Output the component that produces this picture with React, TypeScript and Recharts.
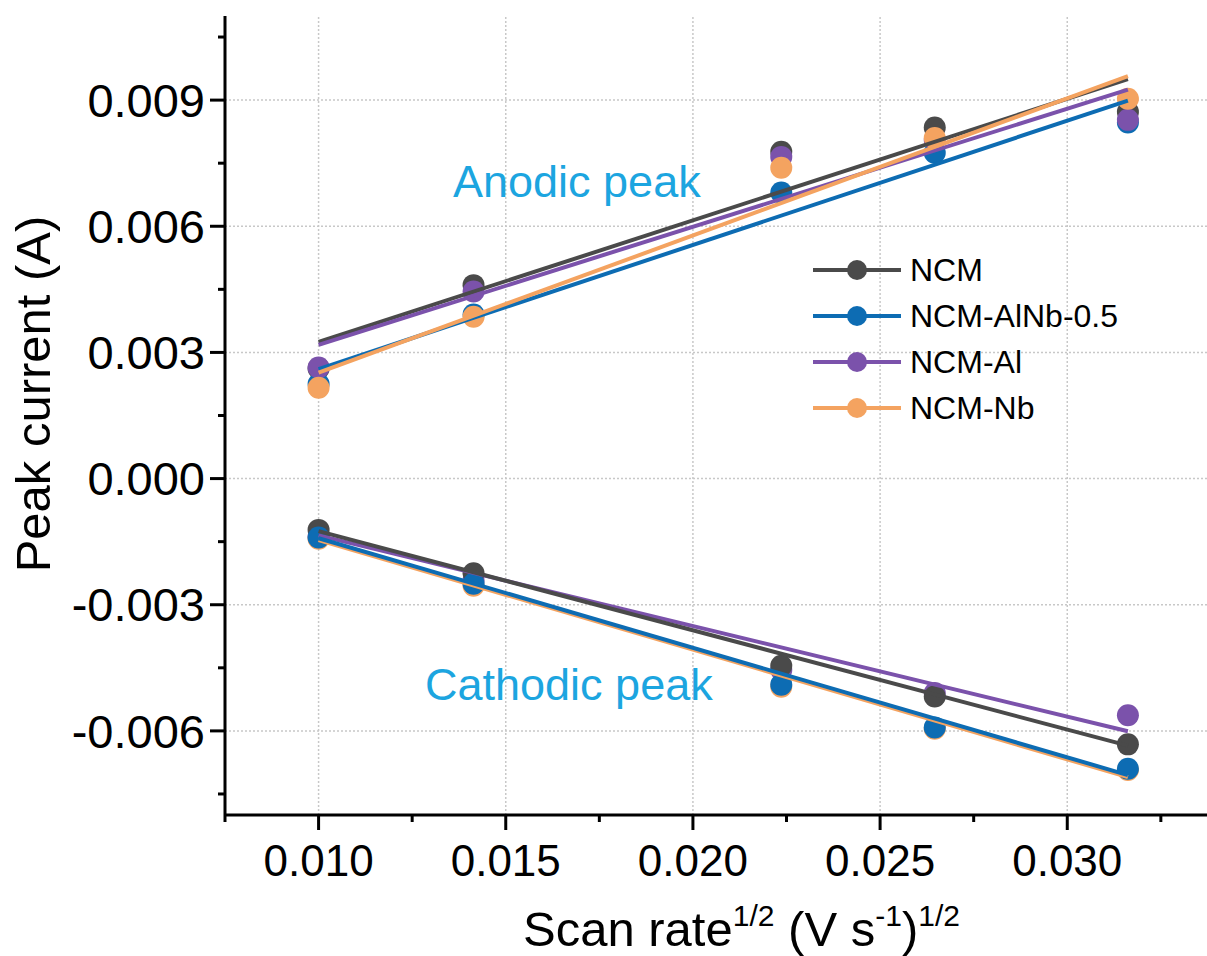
import {ComposedChart, Legend, ReferenceLine, Scatter, XAxis, YAxis, Label} from "recharts";

const font = '"Liberation Sans", Arial, sans-serif';

// sqrt of scan rates (V/s)^1/2
const scanRateSqrt = [0.01, 0.01414, 0.02236, 0.02646, 0.03162];
const fitRange = [0.01, 0.03162];

// peak currents, mA (converted to A below)
const ncmAnodic = [2.62, 4.6, 7.77, 8.35, 8.72];
const alnbAnodic = [2.25, 3.9, 6.8, 7.75, 8.47];
const alAnodic = [2.64, 4.45, 7.65, 8.05, 8.53];
const nbAnodic = [2.16, 3.85, 7.39, 8.1, 9.03];

const ncmCathodic = [-1.22, -2.25, -4.45, -5.18, -6.32];
const alnbCathodic = [-1.4, -2.5, -4.9, -5.92, -6.9];
const alCathodic = [-1.38, -2.42, -4.55, -5.1, -5.63];
const nbCathodic = [-1.43, -2.55, -4.95, -5.95, -6.93];

// linear fit ends (start at 0.010, end at 0.03162), mA
const ncmAnodicFit = [3.25, 9.5];
const alnbAnodicFit = [2.6, 8.99];
const alAnodicFit = [3.18, 9.25];
const nbAnodicFit = [2.52, 9.57];
const ncmCathodicFit = [-1.25, -6.35];
const alnbCathodicFit = [-1.42, -7.05];
const alCathodicFit = [-1.35, -6.01];
const nbCathodicFit = [-1.46, -7.1];

const xMajor = [0.01, 0.015, 0.02, 0.025, 0.03];
const xMinor = [0.0075, 0.0125, 0.0175, 0.0225, 0.0275, 0.0325];
const yMajor = [-0.006, -0.003, 0, 0.003, 0.006, 0.009];
const yMinor = [-0.0075, -0.0045, -0.0015, 0.0015, 0.0045, 0.0075, 0.0105];

const series = [
  {name: "NCM", color: "#4a4a4a", anodic: ncmAnodic, cathodic: ncmCathodic, aFit: ncmAnodicFit, cFit: ncmCathodicFit},
  {name: "NCM-AlNb-0.5", color: "#0d6cb3", anodic: alnbAnodic, cathodic: alnbCathodic, aFit: alnbAnodicFit, cFit: alnbCathodicFit},
  {name: "NCM-Al", color: "#7b52ab", anodic: alAnodic, cathodic: alCathodic, aFit: alAnodicFit, cFit: alCathodicFit},
  {name: "NCM-Nb", color: "#f4a360", anodic: nbAnodic, cathodic: nbCathodic, aFit: nbAnodicFit, cFit: nbCathodicFit},
];

const toPoints = (xs: number[], ys: number[]) => ys.map((v, i) => ({x: xs[i], y: v / 1000}));

const isIn = (list: number[], v: number) => list.some((m) => Math.abs(m - v) < 1e-7);

const TICK = 15;
const X_GAP = 15;
const Y_GAP = 5;

function XTick({x, y, payload}: any) {
  const major = isIn(xMajor, payload.value);
  const y0 = y - TICK - X_GAP;
  return (
    <g>
      <line x1={x} x2={x} y1={y0} y2={y0 + (major ? 15 : 7)} stroke="#000" strokeWidth={3} />
      {major && (
        <text x={x} y={y} dy="0.71em" textAnchor="middle" fontSize={44} fontFamily={font} fill="#000">
          {payload.value.toFixed(3)}
        </text>
      )}
    </g>
  );
}

function YTick({x, y, payload}: any) {
  const major = isIn(yMajor, payload.value);
  const x0 = x + TICK + Y_GAP;
  return (
    <g>
      <line x1={x0} x2={x0 - (major ? 15 : 7)} y1={y} y2={y} stroke="#000" strokeWidth={3} />
      {major && (
        <text x={x} y={y} dy="0.355em" textAnchor="end" fontSize={47} fontFamily={font} fill="#000">
          {payload.value.toFixed(3)}
        </text>
      )}
    </g>
  );
}

const dot = (color: string) => (p: any) => <circle cx={p.cx} cy={p.cy} r={11} fill={color} />;
const noDot = () => <g />;

function renderLegend() {
  return (
    <div style={{fontFamily: font, fontSize: 32, color: "#000"}}>
      {series.map((s) => (
        <div key={s.name} style={{display: "flex", alignItems: "center", height: 46}}>
          <svg width={88} height={24}>
            <line x1={0} x2={88} y1={12} y2={12} stroke={s.color} strokeWidth={4} />
            <circle cx={44} cy={12} r={10} fill={s.color} />
          </svg>
          <span style={{marginLeft: 9}}>{s.name}</span>
        </div>
      ))}
    </div>
  );
}

function XTitle({viewBox}: any) {
  const x = viewBox.x + 298;
  return (
    <text x={x} y={946} fontSize={49} fontFamily={font} fill="#000">
      Scan rate
      <tspan dy={-20} fontSize={30}>1/2</tspan>
      <tspan dy={20}> (V s</tspan>
      <tspan dy={-20} fontSize={30}>-1</tspan>
      <tspan dy={20}>)</tspan>
      <tspan dy={-20} fontSize={30}>1/2</tspan>
    </text>
  );
}

function YTitle() {
  return (
    <text
      x={50}
      y={394}
      transform="rotate(-90, 50, 394)"
      textAnchor="middle"
      fontSize={49}
      fontFamily={font}
      fill="#000"
    >
      Peak current (A)
    </text>
  );
}

export default function App() {
  return (
    <div style={{position: "absolute", left: 0, top: 0, width: 1207, height: 956, overflow: "hidden", background: "#fff"}}>
      <ComposedChart width={1217} height={956} margin={{top: 16, right: 0, bottom: 0, left: 0}}>
        <XAxis
          type="number"
          dataKey="x"
          domain={[0.0075, 0.034]}
          ticks={[...xMajor, ...xMinor].sort((a, b) => a - b)}
          interval={0}
          allowDataOverflow
          height={141}
          tickSize={TICK}
          tickMargin={X_GAP}
          tickLine={false}
          tick={<XTick />}
          axisLine={{stroke: "#000", strokeWidth: 3}}
        >
          <Label content={<XTitle />} />
        </XAxis>
        <XAxis
          xAxisId="top"
          orientation="top"
          type="number"
          domain={[0.0075, 0.034]}
          height={0}
          tick={false}
          tickLine={false}
          axisLine={{stroke: "#000", strokeWidth: 3}}
        />
        <YAxis
          type="number"
          dataKey="y"
          domain={[-0.008, 0.011]}
          ticks={[...yMajor, ...yMinor].sort((a, b) => a - b)}
          interval={0}
          allowDataOverflow
          width={225}
          tickSize={TICK}
          tickMargin={Y_GAP}
          tickLine={false}
          tick={<YTick />}
          axisLine={{stroke: "#000", strokeWidth: 3}}
        >
          <Label content={<YTitle />} />
        </YAxis>

        {xMajor.map((v) => (
          <ReferenceLine key={`gx${v}`} x={v} stroke="#c8c8c8" strokeWidth={1.5} strokeDasharray="2 2" />
        ))}
        {yMajor.map((v) => (
          <ReferenceLine key={`gy${v}`} y={v} stroke="#c8c8c8" strokeWidth={1.5} strokeDasharray="2 2" />
        ))}

        {series.map((s) => (
          <Scatter
            key={`a-${s.name}`}
            name={s.name}
            data={toPoints(scanRateSqrt, s.anodic)}
            shape={dot(s.color)}
            fill={s.color}
            isAnimationActive={false}
          />
        ))}
        {[series[2], series[3], series[0], series[1]].map((s) => (
          <Scatter
            key={`c-${s.name}`}
            data={toPoints(scanRateSqrt, s.cathodic)}
            shape={dot(s.color)}
            fill={s.color}
            legendType="none"
            isAnimationActive={false}
          />
        ))}
        {series.map((s) => (
          <Scatter
            key={`af-${s.name}`}
            data={toPoints(fitRange, s.aFit)}
            line={{stroke: s.color, strokeWidth: 4}}
            shape={noDot}
            legendType="none"
            isAnimationActive={false}
          />
        ))}
        {[series[2], series[3], series[0], series[1]].map((s) => (
          <Scatter
            key={`cf-${s.name}`}
            data={toPoints(fitRange, s.cFit)}
            line={{stroke: s.color, strokeWidth: 4}}
            shape={noDot}
            legendType="none"
            isAnimationActive={false}
          />
        ))}

        <Legend
          content={renderLegend}
          layout="horizontal"
          verticalAlign="middle"
          align="center"
          wrapperStyle={{position: "absolute", left: 813, top: 247, width: 320}}
        />
      </ComposedChart>
      <div style={{position: "absolute", left: 453, top: 156, fontFamily: font, fontSize: 45, color: "#1ca5e0"}}>
        Anodic peak
      </div>
      <div style={{position: "absolute", left: 425, top: 659, fontFamily: font, fontSize: 45, color: "#1ca5e0"}}>
        Cathodic peak
      </div>
    </div>
  );
}
